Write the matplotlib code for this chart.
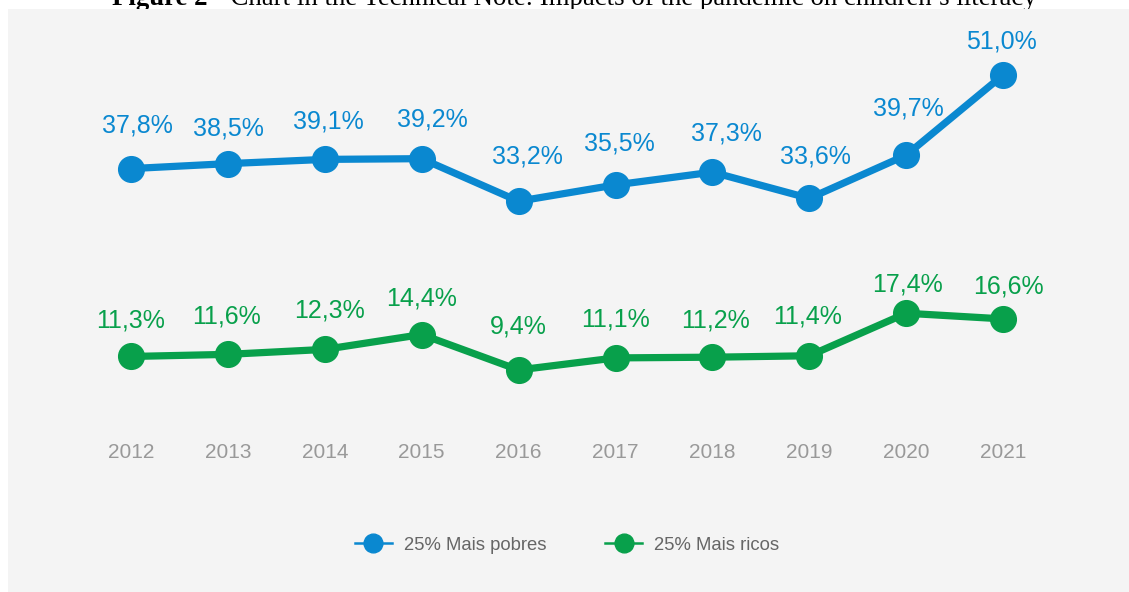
import matplotlib
matplotlib.use('Agg')
import matplotlib.pyplot as plt
from matplotlib.patches import Rectangle
from matplotlib.lines import Line2D

# ---- data ----
years = ['2012', '2013', '2014', '2015', '2016', '2017', '2018', '2019', '2020', '2021']
poorest = [37.8, 38.5, 39.1, 39.2, 33.2, 35.5, 37.3, 33.6, 39.7, 51.0]
richest = [11.3, 11.6, 12.3, 14.4, 9.4, 11.1, 11.2, 11.4, 17.4, 16.6]
series_names = ['25% Mais pobres', '25% Mais ricos']
title_bold = 'Figure 2'
title_rest = ' - Chart in the Technical Note: Impacts of the pandemic on children\u2019s literacy'

# ---- style ----
BLUE = '#0a88d0'
GREEN = '#08a04b'
PANEL = '#f4f4f4'
W, H = 1129, 592
plt.rcParams['font.family'] = ['Liberation Sans', 'DejaVu Sans']

# label offsets in pixels (dx, dy up to label centre)
off_poor = [(6, 45), (1, 37), (4, 40), (11, 41), (9, 47), (4, 43), (14, 41), (6, 44), (2, 49), (-2, 36)]
off_rich = [(0, 38), (-1, 40), (5, 41), (0, 38), (0, 45), (0, 40), (3, 39), (-2, 41), (1, 31), (5, 34)]

fig = plt.figure(figsize=(W / 100, H / 100), dpi=100)
fig.patch.set_facecolor('white')

# gray panel
fig.patches.append(Rectangle((8 / W, 0), 1 - 8 / W, 1 - 9 / H, transform=fig.transFigure,
                             facecolor=PANEL, edgecolor='none', zorder=1))

# title (partially hidden by panel, as in the source)
t1 = fig.text(112 / W, 1 - 5 / H, title_bold, family='Liberation Serif', fontweight='bold',
              fontsize=19.3, ha='left', va='baseline', zorder=0.5)
fig.canvas.draw()
bb = t1.get_window_extent()
fig.text((bb.x1) / W, 1 - 5 / H, title_rest, family='Liberation Serif',
         fontsize=19.3, ha='left', va='baseline', zorder=0.5)

# axes mapped to pixel layout
x0, dx = 131.0, 96.9
y0, dy = 436.6, 7.09
bottom_px = 440
ax = fig.add_axes([0, 1 - bottom_px / H, 1, bottom_px / H])
ax.set_zorder(2)
ax.patch.set_visible(False)
ax.set_xlim(-x0 / dx, (W - x0) / dx)
ax.set_ylim((y0 - bottom_px) / dy, y0 / dy)

xs = list(range(len(years)))
ax.plot(xs, poorest, color=BLUE, lw=5.2, marker='o', ms=18.5, solid_capstyle='round',
        solid_joinstyle='round', zorder=3)
ax.plot(xs, richest, color=GREEN, lw=5.2, marker='o', ms=18.5, solid_capstyle='round',
        solid_joinstyle='round', zorder=3)

def fmt(v):
    return f'{v:.1f}'.replace('.', ',') + '%'

for vals, offs, col in ((poorest, off_poor, BLUE), (richest, off_rich, GREEN)):
    for i, (v, (ox, oy)) in enumerate(zip(vals, offs)):
        ax.annotate(fmt(v), (i, v), xytext=(ox, oy - 9), textcoords='offset pixels',
                    ha='center', va='baseline', fontsize=18, color=col)

ax.set_xticks(xs, years)
ax.tick_params(axis='x', length=0, pad=2, labelsize=15, labelcolor='#999999')
ax.set_yticks([])
for s in ax.spines.values():
    s.set_visible(False)

handles = [Line2D([], [], color=BLUE, lw=1.8, marker='o', ms=13.5),
           Line2D([], [], color=GREEN, lw=1.8, marker='o', ms=13.5)]
leg = fig.legend(handles, series_names, loc='center', bbox_to_anchor=(567 / W, 1 - 545 / H),
                 ncol=2, frameon=False, fontsize=13.3, handlelength=2.0, handletextpad=0.65,
                 columnspacing=3.2, labelcolor='#666666')
leg.set_zorder(3)

fig.savefig('out.png', dpi=100, facecolor='white')
